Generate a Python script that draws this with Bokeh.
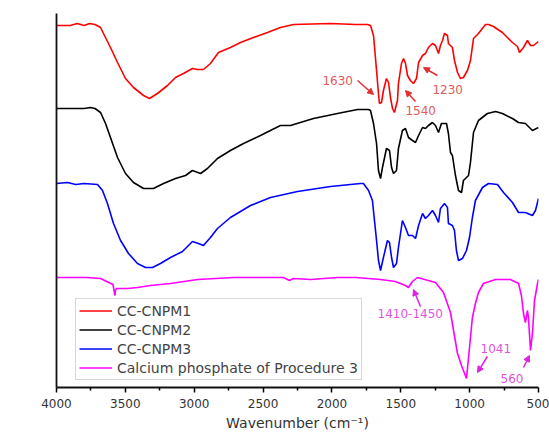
import math
from bokeh.plotting import figure
from bokeh.models import Range1d, Label, Arrow, NormalHead, Legend, LegendItem, FixedTicker
from bokeh.embed import file_html
from bokeh.resources import INLINE

# ---- data (wavenumber in cm^-1, transmittance in arbitrary offset units) ----
wn_cc1 = [4000, 3900, 3850, 3800, 3760, 3720, 3680, 3659, 3608, 3557, 3499, 3441, 3368, 3325,
          3267, 3194, 3136, 3078, 3013, 2976, 2933, 2882, 2824, 2737, 2664, 2570, 2468, 2374,
          2279, 2010, 1829, 1742, 1720, 1698, 1676, 1662, 1655, 1640, 1626, 1604, 1589, 1575,
          1560, 1546, 1524, 1517, 1495, 1480, 1466, 1451, 1430, 1408, 1386, 1371, 1342, 1321,
          1299, 1270, 1248, 1226, 1212, 1197, 1183, 1161, 1154, 1125, 1110, 1088, 1067, 1045,
          1016, 994, 972, 936, 885, 863, 827, 762, 689, 653, 638, 609, 580, 558, 536, 500]
t_cc1 = [362, 362, 364, 362, 364, 363, 360, 354, 340, 325, 309, 300, 292, 289,
         294, 302, 310, 314, 319, 318, 318, 324, 335, 340, 345, 350, 355, 360,
         363, 364, 363, 363, 362, 352, 317, 294, 284, 285, 297, 309, 305, 290,
         279, 275, 287, 304, 324, 329, 324, 312, 307, 304, 309, 325, 332, 334,
         340, 344, 342, 334, 342, 347, 354, 352, 344, 340, 327, 315, 309, 310,
         317, 327, 349, 354, 363, 363, 361, 355, 345, 341, 335, 340, 347, 342, 342, 346]

wn_cc2 = [4000, 3900, 3800, 3753, 3720, 3680, 3644, 3608, 3557, 3499, 3441, 3368, 3296, 3223,
          3136, 3063, 3013, 2954, 2904, 2831, 2737, 2642, 2519, 2374, 2301, 2134, 1960, 1814,
          1734, 1720, 1698, 1676, 1662, 1647, 1633, 1604, 1582, 1567, 1553, 1531, 1517, 1488,
          1466, 1444, 1415, 1393, 1371, 1342, 1321, 1299, 1270, 1248, 1226, 1205, 1168, 1154,
          1139, 1125, 1103, 1081, 1059, 1045, 1008, 994, 972, 936, 871, 812, 762, 689,
          645, 595, 544, 500]
t_cc2 = [279, 279, 279, 280, 279, 275, 264, 250, 230, 214, 205, 199, 199, 204,
         209, 212, 217, 214, 219, 229, 237, 244, 252, 262, 262, 269, 274, 278,
         278, 277, 264, 244, 217, 209, 220, 239, 237, 220, 214, 217, 239, 257,
         259, 250, 247, 245, 252, 260, 259, 262, 265, 262, 255, 264, 264, 254,
         235, 232, 212, 197, 195, 207, 212, 225, 255, 267, 274, 276, 274, 269,
         265, 264, 257, 260]

wn_cc3 = [4000, 3920, 3860, 3800, 3702, 3666, 3630, 3586, 3535, 3477, 3412, 3354, 3303, 3245,
          3172, 3085, 3013, 2969, 2933, 2882, 2831, 2737, 2591, 2446, 2250, 2010, 1793, 1771,
          1734, 1706, 1691, 1676, 1662, 1647, 1626, 1597, 1582, 1567, 1553, 1531, 1517, 1488,
          1466, 1444, 1415, 1393, 1371, 1342, 1321, 1299, 1270, 1248, 1226, 1212, 1183, 1161,
          1154, 1125, 1110, 1096, 1081, 1052, 1023, 1001, 980, 958, 907, 863, 798, 754,
          689, 645, 595, 544, 522, 500]
t_cc3 = [204, 205, 203, 204, 203, 197, 184, 164, 147, 134, 124, 120, 120, 124,
         130, 136, 146, 144, 142, 150, 159, 170, 182, 190, 196, 201, 204, 204,
         197, 187, 167, 147, 127, 117, 130, 147, 145, 130, 120, 124, 140, 167,
         160, 152, 152, 149, 162, 174, 169, 172, 177, 172, 165, 179, 184, 180,
         164, 162, 157, 137, 127, 129, 137, 150, 170, 187, 200, 204, 203, 195,
         185, 175, 175, 172, 177, 189]

wn_cap = [4000, 3775, 3680, 3620, 3590, 3575, 3572, 3565, 3485, 3412, 3318, 3172, 2976, 2715,
          2352, 2308, 2280, 2156, 1960, 1829, 1647, 1539, 1466, 1444, 1415, 1379, 1248, 1190,
          1139, 1117, 1088, 1059, 1023, 1008, 994, 980, 958, 936, 900, 812, 704, 645,
          624, 609, 595, 580, 573, 558, 544, 529, 507, 500]
t_cap = [110, 110, 109, 105, 103, 92, 97, 99, 99, 100, 102, 104, 108, 110,
         110, 107, 109, 108, 110, 110, 108, 106, 102, 100, 106, 110, 105, 95,
         75, 57, 34, 22, 9, 30, 50, 70, 84, 95, 104, 108, 108, 104,
         92, 74, 65, 77, 70, 37, 54, 87, 104, 108]

series_names = ["CC-CNPM1", "CC-CNPM2", "CC-CNPM3", "Calcium phosphate of Procedure 3"]
x_ticks = [4000, 3500, 3000, 2500, 2000, 1500, 1000, 500]
x_minor = [3750, 3250, 2750, 2250, 1750, 1250, 750]

FONT = "DejaVu Sans"

p = figure(width=549, height=435, output_backend="svg", toolbar_location=None,
           x_range=Range1d(4000, 500), y_range=Range1d(0, 374),
           min_border_left=56, min_border_right=11, min_border_top=13, min_border_bottom=48)
p.background_fill_color = "white"
p.border_fill_color = "white"
p.outline_line_color = None
p.grid.visible = False

colors = ["#ff0000", "#000000", "#0000ff", "#ff00ff"]
data = [(wn_cc1, t_cc1), (wn_cc2, t_cc2), (wn_cc3, t_cc3), (wn_cap, t_cap)]
renderers = []
for (xs, ys), c in zip(data, colors):
    renderers.append(p.line(xs, ys, line_color=c, line_width=1.6))

# axes
xa = p.xaxis[0]
xa.ticker = FixedTicker(ticks=x_ticks, minor_ticks=x_minor)
xa.axis_line_width = 1.8
xa.axis_line_color = "#111111"
xa.major_tick_out = 5
xa.major_tick_in = 0
xa.minor_tick_out = 3
xa.minor_tick_in = 0
xa.major_tick_line_width = 1.5
xa.minor_tick_line_width = 1.5
xa.major_label_text_font = FONT
xa.major_label_text_font_size = "12px"
xa.major_label_text_color = "#333333"
xa.major_label_standoff = 6
xa.axis_label = "Wavenumber (cm\u207b\u00b9)"
xa.axis_label_text_font = FONT
xa.axis_label_text_font_size = "14px"
xa.axis_label_text_font_style = "normal"
xa.axis_label_text_color = "#333333"
xa.axis_label_standoff = 4

ya = p.yaxis[0]
ya.ticker = FixedTicker(ticks=[])
ya.axis_line_width = 1.8
ya.axis_line_color = "#111111"
ya.major_tick_out = 0
ya.major_tick_in = 0
ya.minor_tick_out = 0
ya.major_label_standoff = 0
ya.major_label_text_font_size = "0px"

# y axis title, placed relative to the plot frame
p.add_layout(Label(x=-38, y=197, x_units="screen", y_units="screen",
                   text="% Transmittance", angle=math.pi / 2,
                   text_font=FONT, text_font_size="14px", text_color="#222222",
                   text_align="center", text_baseline="middle"))

# legend
legend = Legend(items=[LegendItem(label=n, renderers=[r]) for n, r in zip(series_names, renderers)],
                location=(19, 7), orientation="vertical",
                label_text_font=FONT, label_text_font_size="14px", label_text_color="#444444",
                glyph_width=33, glyph_height=17, label_height=17, spacing=2, padding=3,
                label_standoff=5, margin=0,
                border_line_color="#b0b0b0", border_line_width=1,
                background_fill_color="white", background_fill_alpha=1.0)
p.add_layout(legend, "center")

# annotations
red_lab = "#e35a5a"
mag_lab = "#dd55dd"
peak_labels = ["1630", "1540", "1230", "1410-1450", "1041", "560"]
lab_pos = [(2069, 307), (1466, 277), (1270, 298), (1669, 74), (921, 39), (776, 9)]
lab_col = [red_lab, red_lab, red_lab, mag_lab, mag_lab, mag_lab]
for t, (x, y), c in zip(peak_labels, lab_pos, lab_col):
    p.add_layout(Label(x=x, y=y, text=t, text_font=FONT, text_font_size="12px",
                       text_color=c, text_align="left", text_baseline="middle"))

arrows = [((1814, 307), (1698, 293), "#e03030"),
          ((1393, 286), (1466, 297), "#e03030"),
          ((1234, 312), (1335, 320), "#e03030"),
          ((1357, 81), (1408, 98), "#e020e0"),
          ((871, 31), (943, 15), "#e020e0"),
          ((609, 20), (566, 32), "#e020e0")]
for (x0, y0), (x1, y1), c in arrows:
    p.add_layout(Arrow(end=NormalHead(size=6, fill_color=c, line_color=c),
                       x_start=x0, y_start=y0, x_end=x1, y_end=y1,
                       line_color=c, line_width=1.5))

open("out.html", "w").write(file_html(p, INLINE))
